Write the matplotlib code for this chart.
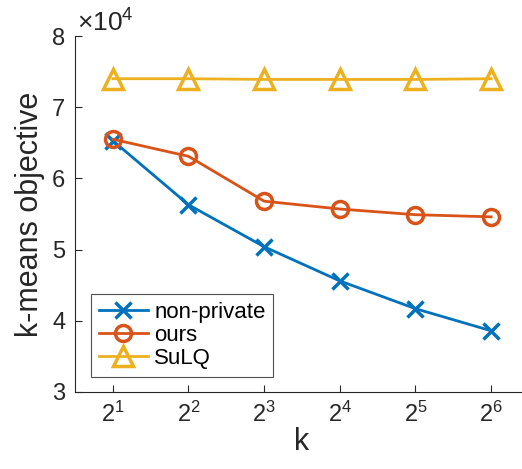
import numpy as np
import matplotlib
matplotlib.use('Agg')
import matplotlib.pyplot as plt

plt.rcParams['font.family'] = ['Liberation Sans', 'DejaVu Sans']
plt.rcParams['mathtext.fontset'] = 'custom'
plt.rcParams['mathtext.rm'] = 'Liberation Sans'
plt.rcParams['mathtext.it'] = 'Liberation Sans:italic'
plt.rcParams['mathtext.default'] = 'regular'

k = [2, 4, 8, 16, 32, 64]
tick_labels = ['$2^{1}$', '$2^{2}$', '$2^{3}$', '$2^{4}$', '$2^{5}$', '$2^{6}$']
nonprivate = [6.53, 5.63, 5.04, 4.56, 4.17, 3.86]
ours = [6.55, 6.31, 5.68, 5.57, 5.49, 5.46]
sulq = [7.40, 7.40, 7.39, 7.39, 7.39, 7.40]

fig = plt.figure(figsize=(5.22, 4.69), dpi=100)
ax = fig.add_axes([75/522, 1-392/469, 454/522, 356/469])

ax.plot(k, nonprivate, color='#0072BD', marker='x', ms=11, mew=2.5, lw=2, label='non-private')
ax.plot(k, ours, color='#D95319', marker='o', ms=11.5, mew=2.5, mfc='none', lw=2, label='ours')
ax.plot(k, sulq, color='#EDB120', marker='^', ms=14, mew=2.5, mfc='none', lw=2, label='SuLQ')

ax.set_xscale('log', base=2)
ax.set_xlim(2**0.5, 2**6.5)
ax.set_ylim(3, 8)
ax.set_xticks(k)
ax.set_xticklabels(tick_labels)
ax.minorticks_off()
ax.set_yticks([3, 4, 5, 6, 7, 8])
ax.tick_params(direction='in', labelsize=17, length=5, width=0.8, colors='#262626', pad=7)
for s in ['top', 'right']:
    ax.spines[s].set_visible(False)
for s in ['left', 'bottom']:
    ax.spines[s].set_color('#262626')

ax.set_xlabel('k', fontsize=22, color='#262626', labelpad=0)
ax.set_ylabel('k-means objective', fontsize=22, color='#262626', labelpad=5)
fig.text(77/522, 1-32/469, r'$\times10^{4}$', fontsize=19, color='#262626', ha='left', va='baseline')

leg = ax.legend(loc='lower left', bbox_to_anchor=(0.035, 0.042), borderaxespad=0, fontsize=16,
                frameon=True, fancybox=False, edgecolor='#262626', handlelength=2.2,
                borderpad=0.35, labelspacing=0.1, handletextpad=0.3)
leg.get_frame().set_linewidth(0.8)

fig.savefig('out.png', dpi=100)
